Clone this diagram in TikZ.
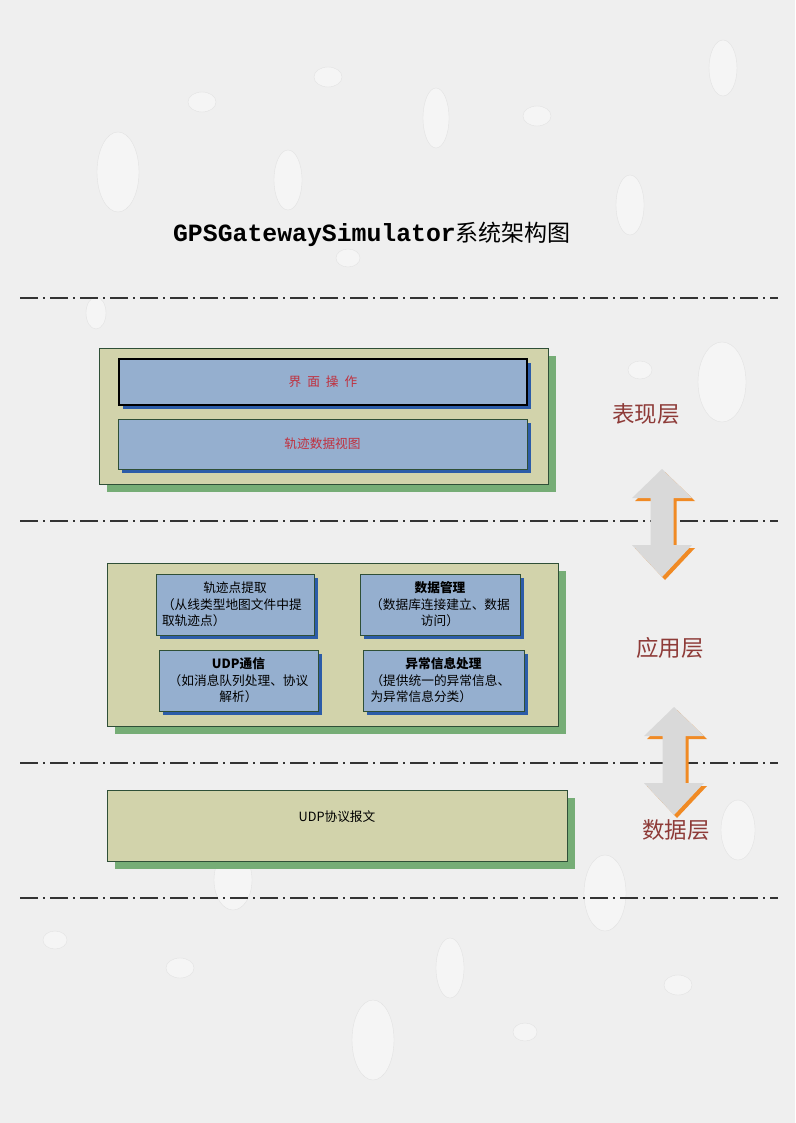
\documentclass[tikz,border=0pt]{standalone}
\usepackage{fontspec}
\setmainfont{Noto Sans CJK SC}
\newfontfamily\titlefont{Liberation Mono}
\usetikzlibrary{shadows}

\definecolor{pagebg}{HTML}{EFEFEF}
\definecolor{layerfill}{HTML}{D2D3AB}
\definecolor{layerdraw}{HTML}{2F4F37}
\definecolor{layershadow}{HTML}{76AD76}
\definecolor{modfill}{HTML}{95AFCF}
\definecolor{modshadow}{HTML}{2C5CA8}
\definecolor{redtext}{HTML}{C0303E}
\definecolor{layertext}{HTML}{8E3B38}
\definecolor{arrowfill}{HTML}{D9D9D9}
\definecolor{arroworange}{HTML}{F08A24}
\definecolor{dropedge}{HTML}{E2E2E2}

\begin{document}
\begin{tikzpicture}[
    x=1pt, y=-1pt,
    layerbox/.style={rectangle, draw=layerdraw, fill=layerfill, inner sep=0pt,
        drop shadow={shadow xshift=8pt, shadow yshift=-8pt, fill=layershadow, opacity=1}},
    modbox/.style={rectangle, draw=layerdraw, fill=modfill, inner sep=0pt, line width=0.8pt,
        drop shadow={shadow xshift=4pt, shadow yshift=-4pt, fill=modshadow, opacity=1}},
    modtext/.style={font=\fontsize{12.7}{16.5}\selectfont, align=left, text width=#1},
    layername/.style={font=\fontsize{22.5}{24}\selectfont, text=layertext},
    sepline/.style={line width=1.2pt, draw=black!80, dash pattern=on 18pt off 5pt on 2pt off 5pt},
    drop/.style={fill=white, fill opacity=0.4, draw=dropedge}
]

% page
\useasboundingbox (0,0) rectangle (795,1123);
\fill[pagebg] (0,0) rectangle (795,1123);

% water drops in the background
\foreach \dx/\dy/\rx/\ry in {118/172/21/40, 288/180/14/30, 436/118/13/30, 630/205/14/30,
    723/68/14/28, 202/102/14/10, 328/77/14/10, 537/116/14/10, 722/382/24/40,
    640/370/12/9, 738/830/17/30, 605/893/21/38, 233/880/19/30, 450/968/14/30,
    373/1040/21/40, 55/940/12/9, 180/968/14/10, 678/985/14/10, 525/1032/12/9,
    96/313/10/16, 348/258/12/9}
  \draw[drop] (\dx,\dy) ellipse [x radius=\rx, y radius=\ry];

% title
\node (title) at (372,234) {\titlefont\bfseries\fontsize{24.8}{26}\selectfont GPSGatewaySimulator\normalfont\fontsize{23}{25}\selectfont 系统架构图};

% separator lines
\foreach \ly in {298,521,763,898}
  \draw[sepline] (20,\ly) -- (778,\ly);

% presentation layer
\node[layerbox, minimum width=449pt, minimum height=136pt] (ui) at (323.5,416) {};
\node[modbox, draw=black, line width=1.6pt, minimum width=408pt, minimum height=46pt,
      text=redtext, font=\fontsize{12.7}{14}\selectfont] (uiop) at (323,382)
  {界\hspace{6pt}面\hspace{6pt}操\hspace{6pt}作};
\node[modbox, minimum width=409pt, minimum height=50pt,
      text=redtext, font=\fontsize{12.7}{14}\selectfont] (trackview) at (322.5,444) {轨迹数据视图};

% application layer
\node[layerbox, minimum width=451pt, minimum height=163pt] (app) at (332.5,644.5) {};
\node[modbox, minimum width=158pt, minimum height=61pt, modtext=146pt] (extract) at (235,604.5)
  {\hfill 轨迹点提取\hfill\null\\（从线类型地图文件中提\\取轨迹点）};
\node[modbox, minimum width=160pt, minimum height=61pt, modtext=146pt, align=center] (dbman) at (440,604.5)
  {\textbf{数据管理}\\（数据库连接建立、数据\\访问）};
\node[modbox, minimum width=159pt, minimum height=61pt, modtext=146pt, align=center] (udpcom) at (238.5,680.5)
  {\textbf{UDP通信}\\（如消息队列处理、协议\\解析）};
\node[modbox, minimum width=161pt, minimum height=61pt, modtext=146pt] (errproc) at (443.5,680.5)
  {\hfill\textbf{异常信息处理}\hfill\null\\（提供统一的异常信息、\\为异常信息分类）};

% data layer
\node[layerbox, minimum width=460pt, minimum height=71pt,
      label={[anchor=center, yshift=-27pt, font=\fontsize{12.7}{14}\selectfont]north:UDP协议报文}] (udpmsg) at (337,825.5) {};

% layer names
\node[layername] (lname1) at (646,414) {表现层};
\node[layername] (lname2) at (670,648) {应用层};
\node[layername] (lname3) at (676,830) {数据层};

% double arrows between layers
\foreach \ax/\ay in {662/469, 674/707} {
  \begin{scope}[shift={(\ax,\ay)}]
    \fill[arroworange] (3,3) -- (33,32) -- (14.5,32) -- (14.5,79) -- (33,79) -- (3,111)
      -- (-27,79) -- (-8.5,79) -- (-8.5,32) -- (-27,32) -- cycle;
    \fill[arrowfill] (0,0) -- (30,29) -- (11.5,29) -- (11.5,76) -- (30,76) -- (0,108)
      -- (-30,76) -- (-11.5,76) -- (-11.5,29) -- (-30,29) -- cycle;
  \end{scope}
}

\end{tikzpicture}
\end{document}
